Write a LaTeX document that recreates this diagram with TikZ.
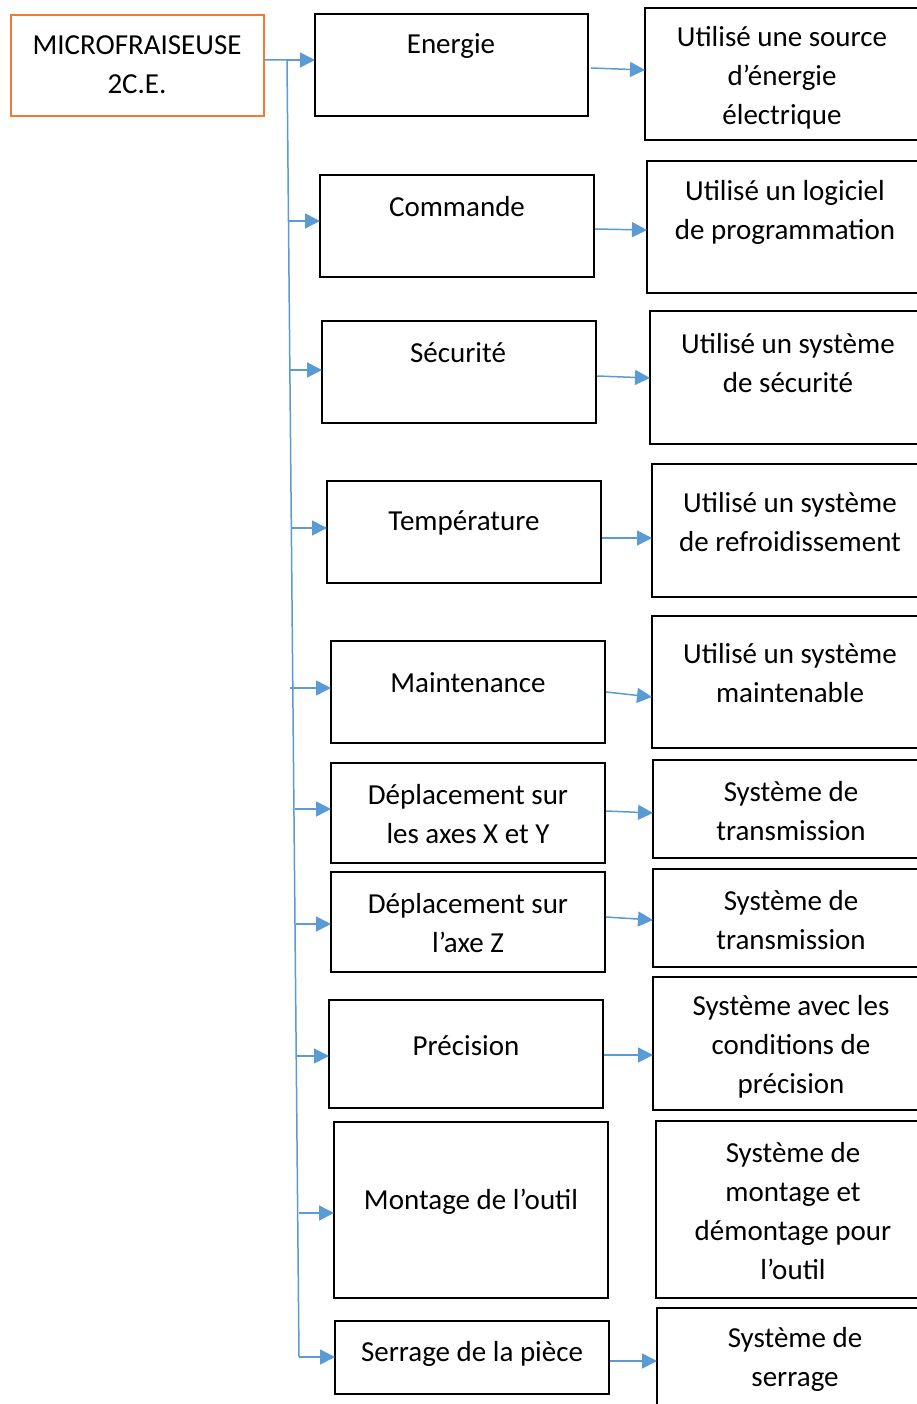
\documentclass[tikz,border=0pt]{standalone}
\usepackage{fontspec}
\setmainfont{Carlito}
\usetikzlibrary{arrows.meta}
\definecolor{obl}{HTML}{5B9BD5}
\definecolor{oor}{HTML}{ED7D31}
\tikzset{
  box/.style={draw=black, line width=2.5pt, anchor=north west, inner sep=0pt, outer sep=0pt},
  root/.style={box, draw=oor},
  txt/.style={align=center, font=\fontsize{29}{39}\selectfont, inner sep=0pt},
  conn/.style={draw=obl, line width=1.5pt},
  arr/.style={conn, -{Triangle[length=15pt,width=15pt]}},
}
\begin{document}
\begin{tikzpicture}[x=1pt,y=-1pt]
\clip (0,0) rectangle (917,1404);
\fill[white] (0,0) rectangle (917,1404);
% root
\node[root, minimum width=253, minimum height=101] (m) at (11,15) {};
\node[txt] (mt) at (137,65) {MICROFRAISEUSE\\2C.E.};
% left column
\node[box, minimum width=273, minimum height=102] (l1) at (315,14) {};
\node[box, minimum width=274, minimum height=102] (l2) at (320,175) {};
\node[box, minimum width=274, minimum height=102] (l3) at (322,321) {};
\node[box, minimum width=274, minimum height=102] (l4) at (327,481) {};
\node[box, minimum width=274, minimum height=102] (l5) at (331,641) {};
\node[box, minimum width=274, minimum height=100] (l6) at (331,763) {};
\node[box, minimum width=274, minimum height=100] (l7) at (331,872) {};
\node[box, minimum width=274, minimum height=108] (l8) at (329,1000) {};
\node[box, minimum width=274, minimum height=176] (l9) at (334,1122) {};
\node[box, minimum width=274, minimum height=73] (l10) at (335,1321) {};
\node[txt] (t1) at (451,46) {Energie};
\node[txt] (t2) at (457,207) {Commande};
\node[txt] (t3) at (458,353) {Sécurité};
\node[txt] (t4) at (464,523) {Température};
\node[txt] (t5) at (468,683) {Maintenance};
\node[txt] (t6) at (468,814) {Déplacement sur\\les axes X et Y};
\node[txt] (t7) at (468,923) {Déplacement sur\\l’axe Z};
\node[txt] (t8) at (466,1046) {Précision};
\node[txt] (t9) at (471,1202) {Montage de l’outil};
\node[txt] (t10) at (472,1354) {Serrage de la pièce};
% right column
\node[box, minimum width=275, minimum height=132] (r1) at (645,8) {};
\node[box, minimum width=273, minimum height=132] (r2) at (647,161) {};
\node[box, minimum width=270, minimum height=133] (r3) at (650,311) {};
\node[box, minimum width=268, minimum height=133] (r4) at (652,464) {};
\node[box, minimum width=268, minimum height=132] (r5) at (652,616) {};
\node[box, minimum width=267, minimum height=98] (r6) at (653,760) {};
\node[box, minimum width=267, minimum height=98] (r7) at (653,869) {};
\node[box, minimum width=267, minimum height=133] (r8) at (653,977) {};
\node[box, minimum width=264, minimum height=177] (r9) at (656,1121) {};
\node[box, minimum width=263, minimum height=112] (r10) at (657,1308) {};
\node[txt] (s1) at (782,78) {Utilisé une source\\d’énergie\\électrique};
\node[txt] (s2) at (785,212) {Utilisé un logiciel\\de programmation};
\node[txt] (s3) at (788,363) {Utilisé un système\\de sécurité};
\node[txt] (s4) at (790,522) {Utilisé un système\\de refroidissement};
\node[txt] (s5) at (790,673) {Utilisé un système\\maintenable};
\node[txt] (s6) at (791,811) {Système de\\transmission};
\node[txt] (s7) at (791,920) {Système de\\transmission};
\node[txt] (s8) at (791,1047) {Système avec les\\conditions de\\précision};
\node[txt] (s9) at (793,1211) {Système de\\montage et\\démontage pour\\l’outil};
\node[txt] (s10) at (795,1359) {Système de\\serrage};
% trunk
\coordinate (ttop) at (287,60);
\coordinate (tbot) at (299,1357);
\draw[conn] (m.east |- ttop) -- (ttop) -- (tbot);
\draw[arr] (ttop) -- (l1.west |- ttop);
\coordinate (b2) at (288.5,221);
\coordinate (b3) at (290,370);
\coordinate (b4) at (291.5,528);
\coordinate (b5) at (290,688);
\coordinate (b6) at (294.5,809);
\coordinate (b7) at (295.5,924);
\coordinate (b8) at (297,1056);
\coordinate (b9) at (298.5,1213);
\draw[arr] (b2) -- (l2.west |- b2);
\draw[arr] (b3) -- (l3.west |- b3);
\draw[arr] (b4) -- (l4.west |- b4);
\draw[arr] (b5) -- (l5.west |- b5);
\draw[arr] (b6) -- (l6.west |- b6);
\draw[arr] (b7) -- (l7.west |- b7);
\draw[arr] (b8) -- (l8.west |- b8);
\draw[arr] (b9) -- (l9.west |- b9);
\draw[arr] (tbot) -- (l10.west |- tbot);
% right arrows
\draw[arr] ([xshift=3pt]l1.east |- 0,68) -- (r1.west |- 0,70);
\draw[arr] ([xshift=1pt]l2.east |- 0,229) -- (r2.west |- 0,230);
\draw[arr] ([xshift=1pt]l3.east |- 0,376) -- (r3.west |- 0,378);
\draw[arr] ([xshift=1pt]l4.east |- 0,538) -- (r4.west |- 0,538);
\draw[arr] ([xshift=1pt]l5.east |- 0,692) -- (r5.west |- 0,697);
\draw[arr] ([xshift=1pt]l6.east |- 0,811) -- (r6.west |- 0,813);
\draw[arr] ([xshift=1pt]l7.east |- 0,917) -- (r7.west |- 0,920);
\draw[arr] ([xshift=1pt]l8.east |- 0,1055) -- (r8.west |- 0,1055);
\draw[arr] ([xshift=1pt]l10.east |- 0,1361) -- (r10.west |- 0,1361);
\end{tikzpicture}
\end{document}
